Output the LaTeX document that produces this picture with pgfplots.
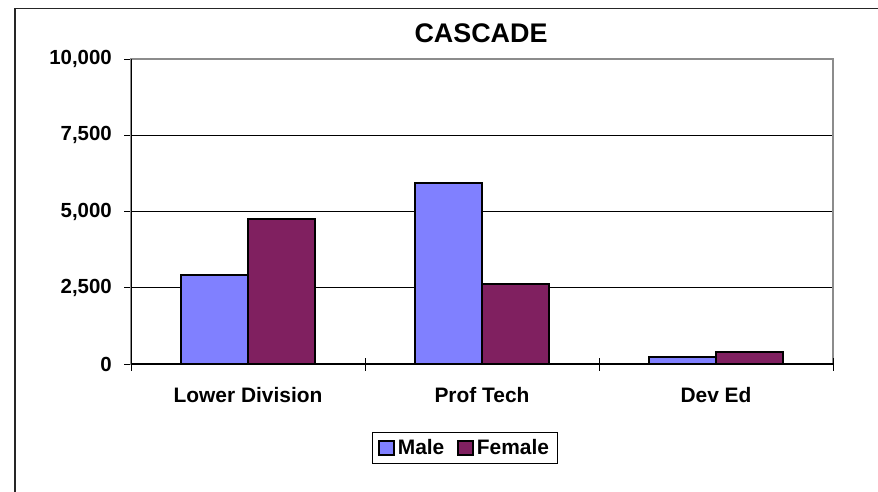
\documentclass[border=0pt]{standalone}
\usepackage{fontspec}
\setmainfont{Liberation Sans}
\usepackage{pgfplots}
\pgfplotsset{compat=1.18}
\definecolor{male}{RGB}{128,128,255}
\definecolor{female}{RGB}{128,32,96}
\definecolor{framegray}{RGB}{140,140,140}
\begin{document}
\begin{tikzpicture}
\path[use as bounding box] (0bp,0bp) rectangle (878bp,-492bp);
\draw[line width=1.5bp, black!85] (15bp,-492bp) -- (15bp,-8.5bp) -- (878bp,-8.5bp);
\node[anchor=base, inner sep=0pt, font=\fontsize{27}{32}\selectfont\bfseries] at (481bp,-42.7bp) {CASCADE};
\begin{axis}[
  at={(131bp,-364bp)}, anchor=south west,
  scale only axis, width=702bp, height=305bp,
  ybar=0pt, bar width=67bp,
  xmin=-0.5, xmax=2.5, ymin=0, ymax=10000,
  xtick={0,1,2}, xticklabels={Lower Division, Prof Tech, Dev Ed},
  xtick style={draw=none},
  tick pos=left,
  extra x ticks={-0.5,0.5,1.5,2.5}, extra x tick labels={},
  extra x tick style={major tick length=13bp, tick align=center, xtick style={draw=black, line width=1bp}},
  ytick={0,2500,5000,7500,10000},
  scaled y ticks=false,
  tick align=outside, major tick length=7bp,
  ytick style={black, line width=1bp},
  ymajorgrids, grid style={black, line width=0.8bp},
  axis line style={framegray, line width=1.5bp},
  /pgf/number format/assume math mode=true,
  /pgf/number format/1000 sep={,},
  yticklabel style={font=\fontsize{20.5}{24}\selectfont\bfseries, inner sep=0pt, xshift=-12bp},
  xticklabel style={font=\fontsize{21}{25}\selectfont\bfseries, inner sep=0pt, anchor=north, yshift=-16bp},
  legend style={at={(0.476,-0.275)}, anchor=center, legend columns=2, draw=black, line width=1bp,
    font=\fontsize{21}{25}\selectfont\bfseries, inner xsep=6bp, inner ysep=4bp,
    nodes={inner sep=3bp},
    /tikz/every even column/.append style={column sep=10bp}},
  legend image code/.code={\draw[#1, line width=1.5bp] (0bp,-7bp) rectangle (15bp,7bp);},
]
\addplot[fill=male, draw=black, line width=2bp] coordinates {(0,2928) (1,5921) (2,217)};
\addplot[fill=female, draw=black, line width=2bp] coordinates {(0,4770) (1,2632) (2,382)};
\legend{Male, Female}
\draw[black, line width=1.5bp] (rel axis cs:0,1) -- (rel axis cs:0,0) -- (rel axis cs:1,0);
\end{axis}
\end{tikzpicture}
\end{document}
